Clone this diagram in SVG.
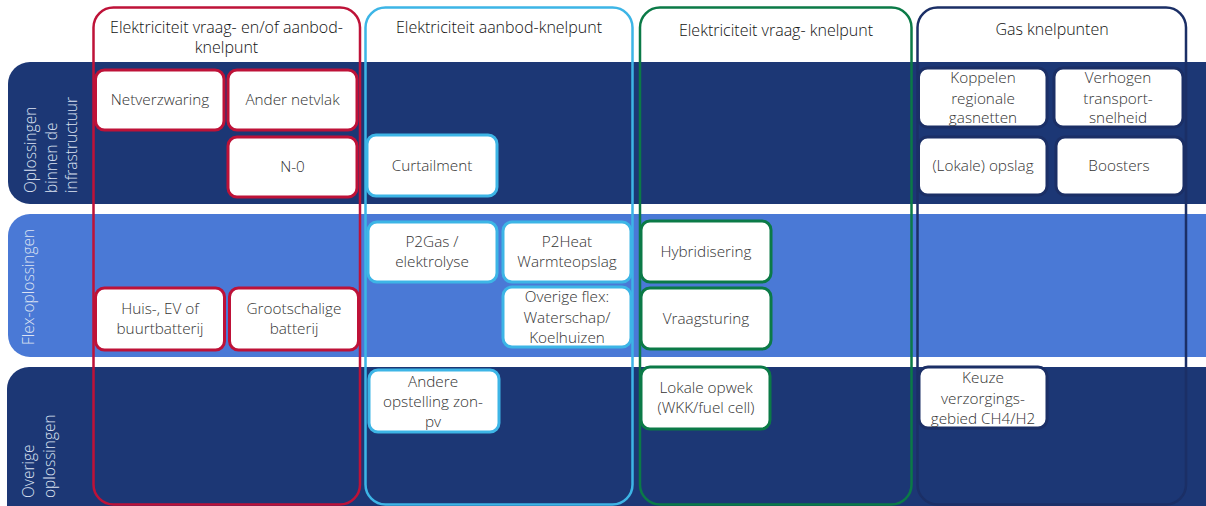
<svg xmlns="http://www.w3.org/2000/svg" width="1206" height="506" viewBox="0 0 1206 506">
<style>
.band-d{fill:#1C3775}
.band-l{fill:#4A79D6}
.col{fill:none;stroke-width:2.5}
.box{fill:#FFFFFF;stroke-width:3}
.t{font-family:"Open Sans","Noto Sans","Liberation Sans",sans-serif;font-size:15.3px;font-weight:300;fill:#333333;text-anchor:middle}
.h{font-family:"Open Sans","Noto Sans","Liberation Sans",sans-serif;font-size:16px;font-weight:300;fill:#111111;text-anchor:middle}
.lbl{font-family:"Open Sans","Noto Sans","Liberation Sans",sans-serif;font-size:15.5px;font-weight:300;fill:#DCE3F2}
.red{stroke:#BE1238}
.lb{stroke:#3DB5E6}
.gr{stroke:#0B7A47}
.nv{stroke:#1B2F66}
</style>
<rect width="1206" height="506" fill="#FFFFFF"/>
<g id="bands">
<rect class="band-d" x="8" y="62" width="1226" height="142" rx="22"/>
<rect class="band-l" x="8" y="214" width="1226" height="143" rx="22"/>
<rect class="band-d" x="7" y="367" width="1226" height="170" rx="22"/>
</g>
<g id="row-labels">
<text class="lbl" transform="translate(35.5,193) rotate(-90)">Oplossingen</text>
<text class="lbl" transform="translate(56.5,193) rotate(-90)">binnen de</text>
<text class="lbl" transform="translate(77,193) rotate(-90)">infrastructuur</text>
<text class="lbl" transform="translate(34,345) rotate(-90)">Flex-oplossingen</text>
<text class="lbl" transform="translate(34,498) rotate(-90)">Overige</text>
<text class="lbl" transform="translate(55,498) rotate(-90)">oplossingen</text>
</g>
<g id="col-red">
<rect class="col red" x="93.5" y="7.5" width="266.5" height="497" rx="20"/>
<text class="h" x="226.5" y="33">Elektriciteit vraag- en/of aanbod-</text>
<text class="h" x="226.5" y="53">knelpunt</text>
</g>
<g id="col-lightblue">
<rect class="col lb" x="365.5" y="7.5" width="267" height="497" rx="20"/>
<text class="h" x="499" y="33">Elektriciteit aanbod-knelpunt</text>
</g>
<g id="col-green">
<rect class="col gr" x="640" y="7.5" width="271.5" height="497" rx="20"/>
<text class="h" x="776" y="36">Elektriciteit vraag- knelpunt</text>
</g>
<g id="col-gas">
<rect class="col nv" x="917.5" y="7.5" width="268.5" height="497" rx="20"/>
<text class="h" x="1052" y="35">Gas knelpunten</text>
</g>
<g id="n-netverzwaring">
<rect class="box red" x="95.5" y="70" width="128.5" height="60" rx="9"/>
<text class="t" x="160" y="105">Netverzwaring</text>
</g>
<g id="n-ander-netvlak">
<rect class="box red" x="228" y="70" width="129" height="60" rx="9"/>
<text class="t" x="292.5" y="105">Ander netvlak</text>
</g>
<g id="n-n0">
<rect class="box red" x="228" y="137" width="129" height="60" rx="9"/>
<text class="t" x="292.5" y="172">N-0</text>
</g>
<g id="n-huis">
<rect class="box red" x="95.5" y="288" width="129" height="62" rx="9"/>
<text class="t" x="160" y="314">Huis-, EV of</text>
<text class="t" x="160" y="334">buurtbatterij</text>
</g>
<g id="n-grootschalig">
<rect class="box red" x="229.5" y="288" width="129" height="62" rx="9"/>
<text class="t" x="294" y="314">Grootschalige</text>
<text class="t" x="294" y="334">batterij</text>
</g>
<g id="n-curtailment">
<rect class="box lb" x="367" y="135" width="130" height="61" rx="9"/>
<text class="t" x="432" y="171">Curtailment</text>
</g>
<g id="n-p2gas">
<rect class="box lb" x="368" y="222" width="129" height="60" rx="9"/>
<text class="t" x="432" y="247">P2Gas /</text>
<text class="t" x="432" y="267">elektrolyse</text>
</g>
<g id="n-p2heat">
<rect class="box lb" x="503" y="222" width="128" height="60" rx="9"/>
<text class="t" x="567" y="247">P2Heat</text>
<text class="t" x="567" y="267">Warmteopslag</text>
</g>
<g id="n-overige-flex">
<rect class="box lb" x="503" y="287" width="128" height="60" rx="9"/>
<text class="t" x="567" y="302">Overige flex:</text>
<text class="t" x="567" y="323">Waterschap/</text>
<text class="t" x="567" y="343">Koelhuizen</text>
</g>
<g id="n-andere-opstelling">
<rect class="box lb" x="369" y="370" width="130" height="62" rx="9"/>
<text class="t" x="433" y="387">Andere</text>
<text class="t" x="433" y="407">opstelling zon-</text>
<text class="t" x="433" y="427">pv</text>
</g>
<g id="n-hybridisering">
<rect class="box gr" x="641" y="221" width="130" height="61" rx="9"/>
<text class="t" x="706" y="257">Hybridisering</text>
</g>
<g id="n-vraagsturing">
<rect class="box gr" x="641" y="288" width="130" height="61" rx="9"/>
<text class="t" x="706" y="324">Vraagsturing</text>
</g>
<g id="n-lokale-opwek">
<rect class="box gr" x="641" y="367" width="129" height="62" rx="9"/>
<text class="t" x="706" y="393">Lokale opwek</text>
<text class="t" x="706" y="413">(WKK/fuel cell)</text>
</g>
<g id="n-koppelen">
<rect class="box nv" x="918.5" y="68" width="128.5" height="59" rx="9" stroke-width="2"/>
<text class="t" x="983" y="83">Koppelen</text>
<text class="t" x="983" y="104">regionale</text>
<text class="t" x="983" y="123">gasnetten</text>
</g>
<g id="n-verhogen">
<rect class="box nv" x="1054" y="68" width="129" height="59" rx="9" stroke-width="2"/>
<text class="t" x="1118" y="83">Verhogen</text>
<text class="t" x="1118" y="104">transport-</text>
<text class="t" x="1118" y="123">snelheid</text>
</g>
<g id="n-lokale-opslag">
<rect class="box nv" x="918.5" y="137" width="128.5" height="58" rx="9" stroke-width="2"/>
<text class="t" x="983" y="171">(Lokale) opslag</text>
</g>
<g id="n-boosters">
<rect class="box nv" x="1056" y="137" width="128" height="58" rx="9" stroke-width="2"/>
<text class="t" x="1119" y="171">Boosters</text>
</g>
<g id="n-keuze">
<rect class="box nv" x="919" y="367" width="128" height="61" rx="9" stroke-width="2"/>
<text class="t" x="983" y="383">Keuze</text>
<text class="t" x="983" y="404">verzorgings-</text>
<text class="t" x="983" y="424">gebied CH4/H2</text>
</g>
<g id="connectors"></g>
</svg>
